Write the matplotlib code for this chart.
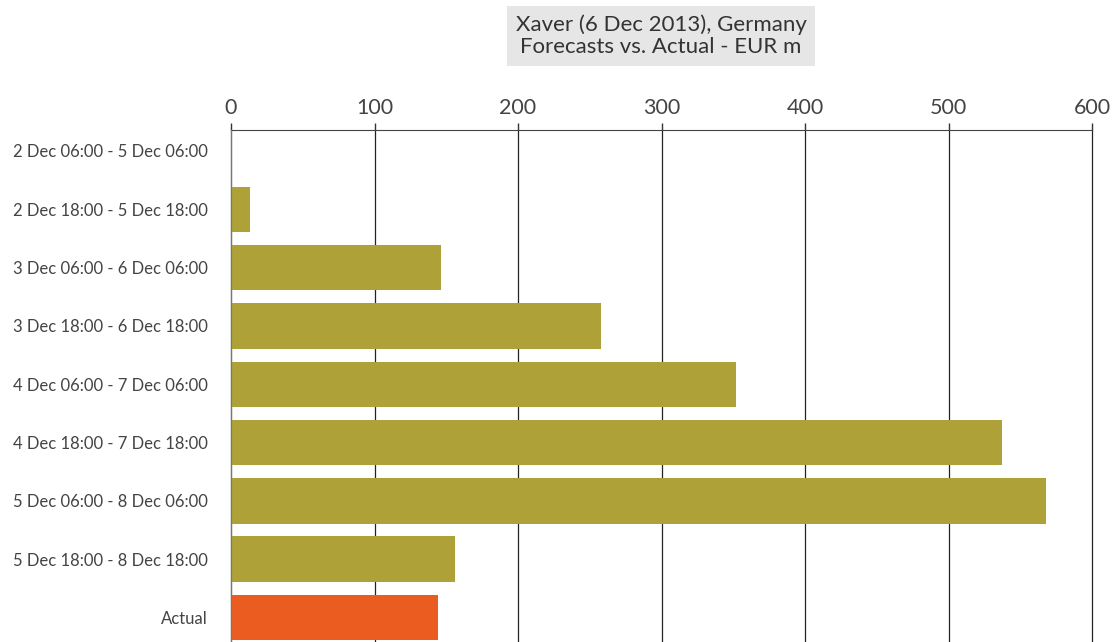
import matplotlib
matplotlib.use("Agg")
import matplotlib.pyplot as plt

categories = [
    "2 Dec 06:00 - 5 Dec 06:00",
    "2 Dec 18:00 - 5 Dec 18:00",
    "3 Dec 06:00 - 6 Dec 06:00",
    "3 Dec 18:00 - 6 Dec 18:00",
    "4 Dec 06:00 - 7 Dec 06:00",
    "4 Dec 18:00 - 7 Dec 18:00",
    "5 Dec 06:00 - 8 Dec 06:00",
    "5 Dec 18:00 - 8 Dec 18:00",
    "Actual",
]
values = [0, 13, 146, 258, 352, 537, 568, 156, 144]
x_ticks = [0, 100, 200, 300, 400, 500, 600]
title = "Xaver (6 Dec 2013), Germany\nForecasts vs. Actual - EUR m"

olive = "#ADA137"
orange = "#EB5C20"
colors = [olive] * (len(values) - 1) + [orange]

plt.rcParams['font.family'] = ['Lato', 'DejaVu Sans']

fig = plt.figure(figsize=(11.12, 6.42), dpi=100)
ax = fig.add_axes([231 / 1112, 0.0, (1092 - 231) / 1112, 1 - 130 / 642])

ypos = list(range(len(categories)))
ax.barh(ypos, values, height=0.78, color=colors, zorder=3)

ax.set_xlim(0, 600)
ax.set_ylim(8.42, -0.36)
ax.set_xticks(x_ticks)
ax.set_xticklabels([str(t) for t in x_ticks], fontsize=15.5, color="#444444")
ax.xaxis.tick_top()
ax.tick_params(axis="x", direction="out", length=5, width=1, color="#333333", pad=4)
ax.set_yticks(ypos)
ax.set_yticklabels(categories, fontsize=12, color="#444444")
ax.tick_params(axis="y", length=0, pad=17)

ax.grid(axis="x", color="#222222", linewidth=0.9, zorder=1)
for gl in ax.get_xgridlines():
    gl.set_clip_on(False)
for s in ["right", "bottom"]:
    ax.spines[s].set_visible(False)
ax.spines["top"].set_color("#444444")
ax.spines["left"].set_color("#777777")
ax.spines["left"].set_zorder(4)

fig.text(661 / 1112, 1 - 36 / 642, title, ha="center", va="center", fontsize=16,
         color="#333333", linespacing=1.15,
         bbox=dict(boxstyle="square,pad=0.38", facecolor="#e6e6e6", edgecolor="none"))

fig.savefig("out.png", dpi=100)
